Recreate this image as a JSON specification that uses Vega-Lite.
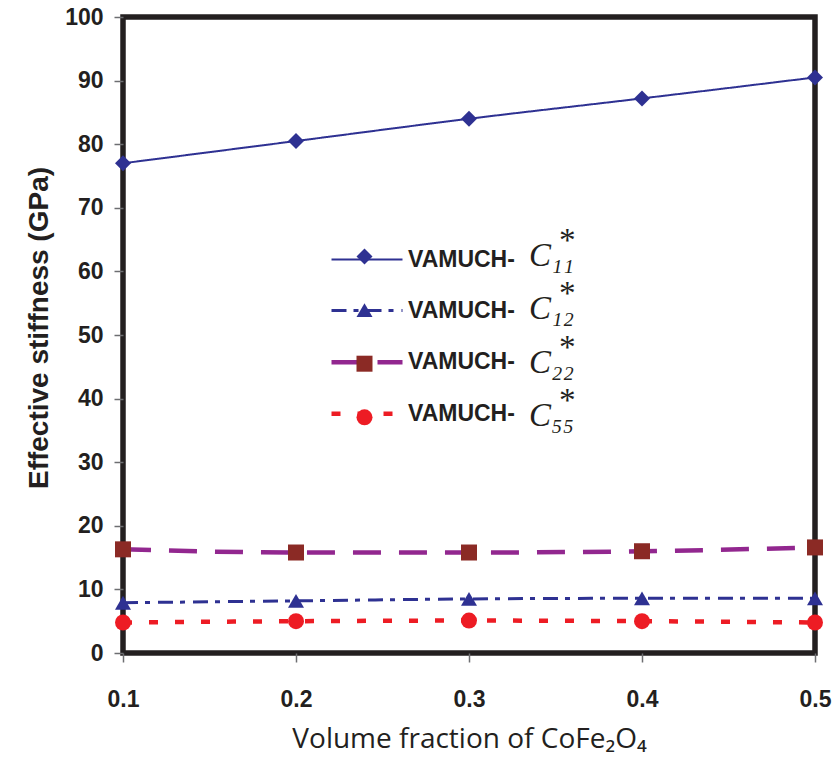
{
  "$schema": "https://vega.github.io/schema/vega-lite/v6.json",
  "width": 692,
  "height": 636,
  "autosize": "none",
  "padding": {"left": 123, "top": 17, "right": 22, "bottom": 105},
  "background": "white",
  "config": {
    "view": {"stroke": "#231F20", "strokeWidth": 5.5},
    "axis": {"grid": false, "domain": false}
  },
  "data": {
    "values": [
      {"x": 0.1, "y": 77.0, "series": "C11"},
      {"x": 0.2, "y": 80.5, "series": "C11"},
      {"x": 0.3, "y": 84.0, "series": "C11"},
      {"x": 0.4, "y": 87.2, "series": "C11"},
      {"x": 0.5, "y": 90.5, "series": "C11"},
      {"x": 0.1, "y": 7.9, "series": "C12"},
      {"x": 0.2, "y": 8.2, "series": "C12"},
      {"x": 0.3, "y": 8.5, "series": "C12"},
      {"x": 0.4, "y": 8.6, "series": "C12"},
      {"x": 0.5, "y": 8.6, "series": "C12"},
      {"x": 0.1, "y": 16.3, "series": "C22"},
      {"x": 0.2, "y": 15.8, "series": "C22"},
      {"x": 0.3, "y": 15.8, "series": "C22"},
      {"x": 0.4, "y": 16.0, "series": "C22"},
      {"x": 0.5, "y": 16.6, "series": "C22"},
      {"x": 0.1, "y": 4.8, "series": "C55"},
      {"x": 0.2, "y": 5.0, "series": "C55"},
      {"x": 0.3, "y": 5.1, "series": "C55"},
      {"x": 0.4, "y": 5.0, "series": "C55"},
      {"x": 0.5, "y": 4.8, "series": "C55"}
    ]
  },
  "encoding": {
    "x": {
      "field": "x", "type": "quantitative",
      "scale": {"domain": [0.1, 0.5], "nice": false, "zero": false},
      "axis": {
        "values": [0.1, 0.2, 0.3, 0.4, 0.5], "format": ".1f",
        "tickSize": 9, "tickColor": "#6d6e71", "tickWidth": 1.5,
        "labelFont": "Liberation Sans", "labelFontWeight": "bold", "labelFontSize": 23,
        "labelColor": "#231F20", "labelBaseline": "alphabetic", "labelPadding": 44.5, "labelFlush": false, "labelOverlap": false,
        "title": "Volume fraction of CoFe₂O₄", "titleFont": "Open Sans", "titleFontWeight": "normal", "titleFontSize": 28,
        "titleColor": "#231F20", "titleBaseline": "alphabetic", "titleY": 94.5
      }
    },
    "y": {
      "field": "y", "type": "quantitative",
      "scale": {"domain": [0, 100], "nice": false},
      "axis": {
        "values": [0, 10, 20, 30, 40, 50, 60, 70, 80, 90, 100], "format": "d",
        "tickSize": 9, "tickColor": "#6d6e71", "tickWidth": 1.5,
        "labelFont": "Liberation Sans", "labelFontWeight": "bold", "labelFontSize": 23,
        "labelColor": "#231F20", "labelBaseline": "middle", "labelPadding": 11, "labelOverlap": false, "labelFlush": false,
        "title": "Effective stiffness (GPa)", "titleFont": "Liberation Sans", "titleFontWeight": "bold", "titleFontSize": 28,
        "titleColor": "#231F20", "titleBaseline": "alphabetic", "titleAngle": 270, "titleAlign": "center",
        "titleX": -76, "titleY": 310.5
      }
    }
  },
  "layer": [
    {
      "mark": {"type": "line", "interpolate": "monotone", "clip": false},
      "encoding": {
        "stroke": {
          "field": "series", "type": "nominal",
          "scale": {"range": ["#2E3192", "#2E3192", "#92278F", "#ED1C24"]},
          "legend": {
            "orient": "none", "legendX": 206, "legendY": 206, "title": null, "padding": 0,
            "symbolType": "stroke", "symbolSize": 5041,
            "labelExpr": "'VAMUCH-'", "labelFont": "Liberation Sans", "labelFontWeight": "bold", "labelFontSize": 23,
            "labelColor": "#231F20", "labelOffset": 3, "rowPadding": 1.6, "labelLimit": 0,
            "encode": {"symbols": {"update": {"strokeWidth": {"signal": "datum.value == 'C11' ? 2 : datum.value == 'C12' ? 3 : 4.5"}}}}
          }
        },
        "strokeDash": {
          "field": "series", "type": "nominal",
          "scale": {"range": [[1, 0], [15, 7, 5, 8], [28, 18], [9, 17]]}
        },
        "strokeWidth": {
          "field": "series", "type": "nominal",
          "scale": {"type": "ordinal", "range": [2, 3, 4.5, 4.5]},
          "legend": null
        }
      }
    },
    {
      "mark": {"type": "point", "filled": true, "opacity": 1, "size": 256, "strokeWidth": 0, "clip": false},
      "encoding": {
        "fill": {
          "field": "series", "type": "nominal",
          "scale": {"domain": ["C11", "C12", "C22", "C55"], "range": ["#2E3192", "#2E3192", "#8B2A25", "#ED1C24"]},
          "legend": {
            "orient": "none", "legendX": 225, "legendY": 223, "title": null, "padding": 0,
            "symbolSize": 256, "symbolStrokeWidth": 0, "symbolOpacity": 1,
            "labelExpr": "['*', 'C' + (datum.value == 'C11' ? '₁₁' : datum.value == 'C12' ? '₁₂' : datum.value == 'C22' ? '₂₂' : '₅₅')]",
            "labelFont": "Liberation Serif", "labelFontStyle": "italic", "labelFontSize": 33, "labelAlign": "right",
            "labelBaseline": "alphabetic", "labelColor": "#231F20", "labelOffset": 193, "rowPadding": 4.6, "labelLimit": 0,
            "encode": {"labels": {"update": {"dy": {"value": -6}, "lineHeight": {"value": 15}}}}
          }
        },
        "shape": {
          "field": "series", "type": "nominal",
          "scale": {"domain": ["C11", "C12", "C22", "C55"], "range": ["diamond", "triangle-up", "square", "circle"]}
        }
      }
    }
  ]
}
